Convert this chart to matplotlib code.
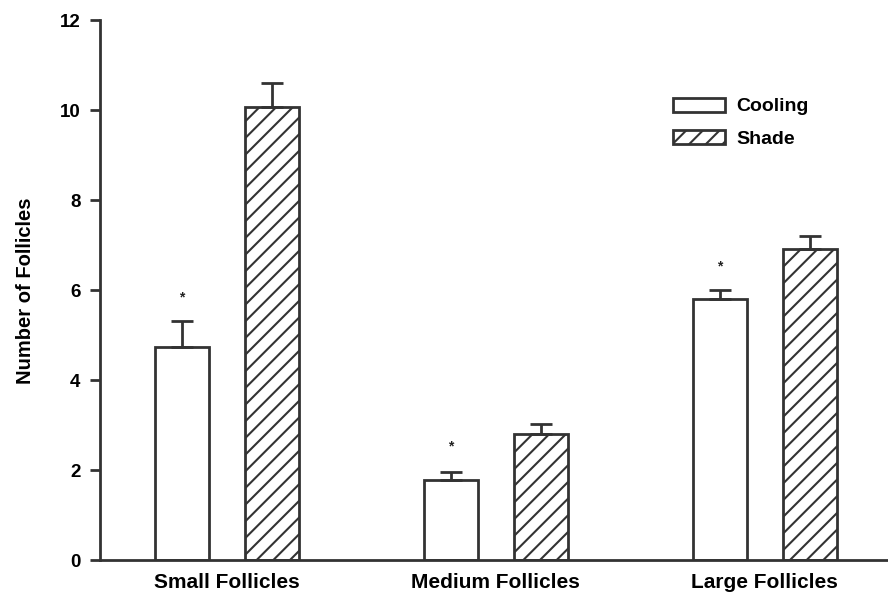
import matplotlib
matplotlib.use("Agg")
import matplotlib.pyplot as plt
from matplotlib.patches import Patch
import numpy as np

plt.rcParams["font.family"] = ["Liberation Sans", "DejaVu Sans"]
plt.rcParams["font.weight"] = "bold"
plt.rcParams["hatch.linewidth"] = 1.5

groups = ["Small Follicles", "Medium Follicles", "Large Follicles"]
cooling = [4.74, 1.79, 5.80]
cooling_err = [0.58, 0.17, 0.20]
shade = [10.07, 2.80, 6.91]
shade_err = [0.55, 0.22, 0.29]
star_y = [5.83, 2.52, 6.52]

edge = "#333333"

fig = plt.figure(figsize=(8.88, 5.94), dpi=100)
ax = fig.add_axes([0.1126, 0.0572, 0.8874, 0.9083])

x = np.arange(len(groups))
w = 0.2
off = 0.167

ax.bar(x - off, cooling, w, color="white", edgecolor=edge, linewidth=2,
       yerr=[np.zeros(3), cooling_err], capsize=8,
       error_kw={"elinewidth": 2, "capthick": 2, "ecolor": edge})
ax.bar(x + off, shade, w, color="white", edgecolor=edge, linewidth=2, hatch="//",
       yerr=[np.zeros(3), shade_err], capsize=8,
       error_kw={"elinewidth": 2, "capthick": 2, "ecolor": edge})

# significance marks
for xi, yi in zip(x - off, star_y):
    ax.text(xi, yi, "*", ha="center", va="center", fontsize=10, color="#222222")

ax.set_xlim(-0.471, 2.458)
ax.set_ylim(0, 12)
ax.set_yticks(range(0, 13, 2))
ax.set_xticks(x)
ax.set_xticklabels(groups, fontsize=15, fontweight="bold")
ax.tick_params(axis="x", length=0, pad=9)
ax.tick_params(axis="y", length=7, width=2, color=edge, labelsize=13.5, pad=7)
for lab in ax.get_yticklabels():
    lab.set_fontweight("bold")

ax.set_ylabel("Number of Follicles", fontsize=14.5, fontweight="bold", labelpad=18)

for s in ["top", "right"]:
    ax.spines[s].set_visible(False)
for s in ["left", "bottom"]:
    ax.spines[s].set_linewidth(2)
    ax.spines[s].set_color(edge)

handles = [Patch(facecolor="white", edgecolor=edge, linewidth=2, label="Cooling"),
           Patch(facecolor="white", edgecolor=edge, linewidth=2, hatch="//", label="Shade")]
ax.legend(handles=handles, loc="upper left", bbox_to_anchor=(0.727, 0.857),
          frameon=False, handlelength=2.68, handleheight=0.72,
          labelspacing=0.75, handletextpad=0.57, borderpad=0, borderaxespad=0,
          prop={"weight": "bold", "size": 14})

fig.savefig("out.png", dpi=100)
